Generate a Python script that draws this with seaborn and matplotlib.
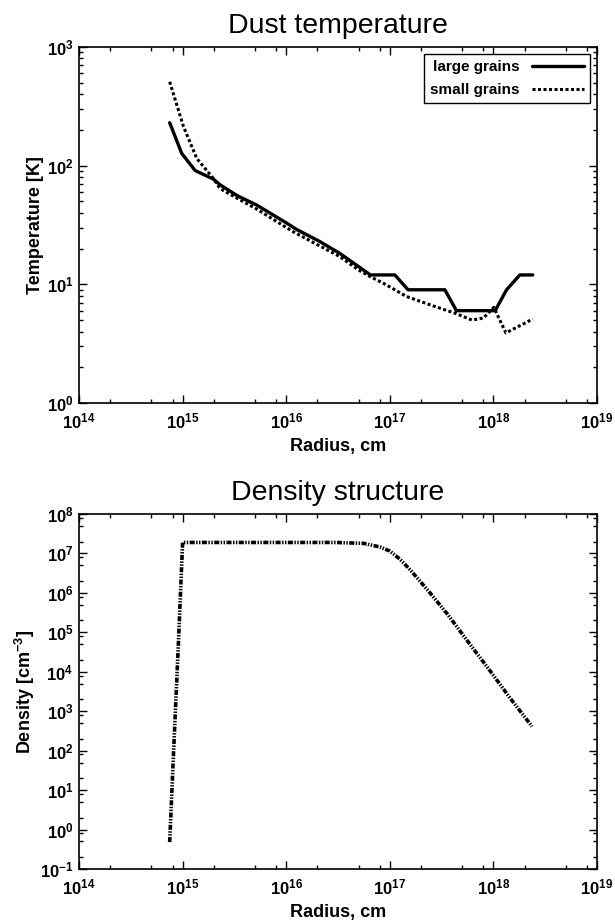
import pandas as pd
import seaborn as sns
import matplotlib.pyplot as plt
import numpy as np
from matplotlib.ticker import LogLocator, FuncFormatter, NullFormatter

# Dust temperature, large grains
r_large = [7.5e14, 9.8e14, 1.32e15, 1.98e15, 2.3e15, 3.35e15, 5.2e15, 1.0e16,
           1.26e16, 2.1e16, 3.3e16, 5.0e16, 6.5e16, 1.12e17, 1.5e17, 3.4e17,
           4.4e17, 1.04e18, 1.34e18, 1.8e18, 2.4e18]
t_large = [230, 127, 91, 77, 69, 56, 46.5, 33, 29, 23, 18.2, 14.1, 12, 12, 9, 9,
           6, 6, 9, 12, 12]

# Dust temperature, small grains
r_small = [7.5e14, 1.02e15, 1.37e15, 1.98e15, 2.3e15, 5.2e15, 1.17e16, 3.3e16,
           5.0e16, 6.5e16, 8.7e16, 1.45e17, 2.6e17, 4.3e17, 6.2e17, 8.0e17,
           1.01e18, 1.32e18, 2.4e18]
t_small = [509, 213, 115, 78, 64, 43, 27.7, 17.1, 13.2, 11.6, 10.2, 7.9, 6.6,
           5.7, 5.0, 5.2, 6.4, 3.9, 5.1]

# Density structure
r_dens = [7.5e14, 8.3e14, 9.1e14, 1.0e15, 3e15, 1e16, 3e16, 5.6e16, 8.1e16,
          1.0e17, 1.25e17, 1.58e17, 2.46e17, 3.56e17, 6.0e17, 9.3e17, 1.46e18,
          2.36e18]
n_dens = [0.48, 2.2e2, 5e4, 1.9e7, 1.9e7, 1.9e7, 1.9e7, 1.8e7, 1.45e7,
          1.15e7, 7.2e6, 3.8e6, 9.8e5, 3.0e5, 4.8e4, 1.05e4, 2.1e3, 4.1e2]

sns.set_theme(style='ticks')
plt.rcParams['font.family'] = ['Liberation Sans', 'DejaVu Sans']
plt.rcParams['mathtext.fontset'] = 'custom'
plt.rcParams['mathtext.bf'] = 'Liberation Sans:bold'
plt.rcParams['mathtext.rm'] = 'Liberation Sans'
plt.rcParams['text.color'] = 'black'
plt.rcParams['axes.labelcolor'] = 'black'

fig = plt.figure(figsize=(6.15, 9.21), dpi=100)
ax1 = fig.add_axes([0.1285, 0.5624, 0.8422, 0.3866])
ax2 = fig.add_axes([0.1285, 0.0565, 0.8422, 0.3854])


def pow_fmt(v, pos):
    e = int(round(np.log10(v)))
    return r'$\mathbf{10^{%d}}$' % e


def style_axis(ax, ylo, yhi):
    ax.set_xscale('log')
    ax.set_yscale('log')
    ax.set_xlim(1e14, 1e19)
    ax.set_ylim(ylo, yhi)
    ax.xaxis.set_major_locator(LogLocator(base=10, numticks=20))
    ax.xaxis.set_minor_locator(LogLocator(base=10, subs=(2, 5, 8), numticks=20))
    ax.yaxis.set_major_locator(LogLocator(base=10, numticks=20))
    ax.xaxis.set_major_formatter(FuncFormatter(pow_fmt))
    ax.yaxis.set_major_formatter(FuncFormatter(pow_fmt))
    ax.xaxis.set_minor_formatter(NullFormatter())
    ax.yaxis.set_minor_formatter(NullFormatter())
    ax.tick_params(which='both', direction='in', top=True, right=True,
                   width=1, colors='black', labelsize=12)
    ax.tick_params(axis='x', which='major', pad=6)
    ax.tick_params(axis='y', which='major', pad=4)
    ax.tick_params(which='major', length=6)
    ax.tick_params(which='minor', length=3)
    for s in ax.spines.values():
        s.set_linewidth(1.2)
        s.set_color('black')
    ax.set_xlabel('Radius, cm', fontsize=13, fontweight='bold', labelpad=5)


# Top panel: temperature
sns.lineplot(x=r_large, y=t_large, ax=ax1, color='black', linewidth=2.4,
             estimator=None, label='large grains')
sns.lineplot(x=r_small, y=t_small, ax=ax1, color='black', linewidth=2.2,
             linestyle=(0, (1, 0.8)), estimator=None, label='small grains')
style_axis(ax1, 1, 1e3)
ax1.yaxis.set_minor_locator(LogLocator(base=10, subs=np.arange(2, 10), numticks=20))
ax1.set_ylabel('Temperature [K]', fontsize=13, fontweight='bold', labelpad=2)
ax1.set_title('Dust temperature', fontsize=20.5, pad=10)
leg = ax1.legend(loc='upper right', markerfirst=False, fancybox=False,
                 framealpha=1, edgecolor='black', handlelength=3.4,
                 borderaxespad=0.45, labelspacing=0.6, borderpad=0.4,
                 prop={'weight': 'bold', 'size': 11})
leg.get_frame().set_linewidth(1.0)

# Bottom panel: density
sns.lineplot(x=r_dens, y=n_dens, ax=ax2, color='black', linewidth=2.6,
             linestyle=(0, (1.4, 0.4, 0.4, 0.4, 0.4, 0.4)), estimator=None)
style_axis(ax2, 0.1, 1e8)
ax2.yaxis.set_minor_locator(LogLocator(base=10, subs=(2, 5, 8), numticks=20))
ax2.set_ylabel(r'Density [cm$^{\mathbf{-3}}$]', fontsize=13, fontweight='bold', labelpad=2)
ax2.set_title('Density structure', fontsize=20.5, pad=10)

fig.savefig('out.png', dpi=100)
